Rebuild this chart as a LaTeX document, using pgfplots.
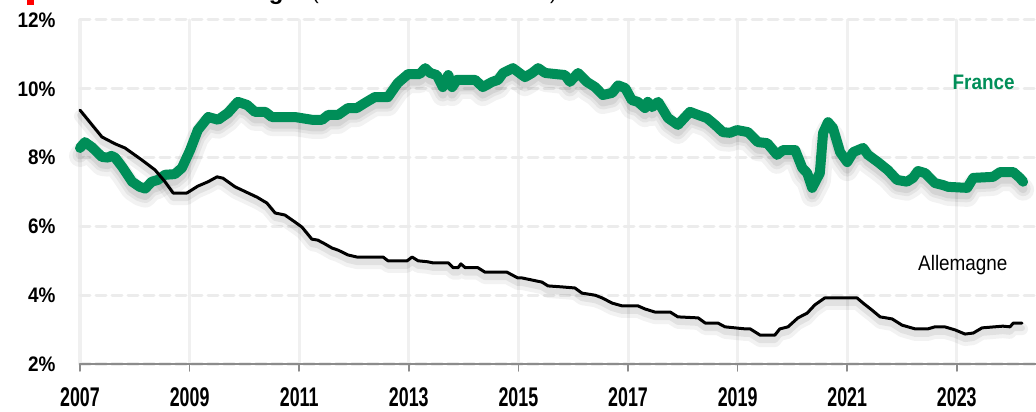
\documentclass[border=0pt]{standalone}
\usepackage{pgfplots}
\pgfplotsset{compat=1.18}
\usepackage{pgfplotstable}
\usepackage{fontspec}
\setmainfont{Liberation Sans}[FakeStretch=0.9]
\newfontfamily\titlefont{Liberation Sans}
\newfontfamily\xlabfont{Liberation Sans}[FakeStretch=0.66]
\definecolor{frgreen}{RGB}{0,142,88}
\definecolor{gridc}{RGB}{236,236,236}
\definecolor{axc}{RGB}{140,140,140}
\newcommand{\bigf}{\fontsize{21bp}{25bp}\selectfont}

\pgfplotstableread{
x y
2007.00 8.28
2007.09 8.45
2007.22 8.30
2007.40 8.02
2007.51 8.00
2007.57 8.05
2007.64 8.00
2007.77 7.73
2007.95 7.30
2008.09 7.15
2008.19 7.10
2008.31 7.30
2008.42 7.35
2008.55 7.50
2008.73 7.52
2008.86 7.70
2009.01 8.22
2009.15 8.80
2009.34 9.18
2009.52 9.10
2009.70 9.30
2009.88 9.62
2010.05 9.53
2010.19 9.33
2010.38 9.33
2010.50 9.18
2010.92 9.18
2011.23 9.10
2011.42 9.10
2011.53 9.24
2011.71 9.24
2011.89 9.44
2012.05 9.44
2012.20 9.59
2012.38 9.76
2012.62 9.76
2012.80 10.17
2012.99 10.43
2013.20 10.43
2013.30 10.60
2013.39 10.46
2013.51 10.40
2013.62 10.05
2013.72 10.40
2013.79 10.05
2013.88 10.26
2014.21 10.26
2014.35 10.05
2014.52 10.20
2014.63 10.26
2014.72 10.46
2014.90 10.60
2015.12 10.34
2015.25 10.46
2015.36 10.60
2015.49 10.46
2015.85 10.40
2015.94 10.20
2016.09 10.46
2016.25 10.20
2016.40 10.05
2016.54 9.82
2016.71 9.88
2016.82 10.10
2016.95 10.02
2017.07 9.67
2017.18 9.62
2017.31 9.44
2017.36 9.62
2017.44 9.47
2017.55 9.62
2017.73 9.15
2017.91 8.95
2018.13 9.33
2018.28 9.24
2018.44 9.15
2018.59 8.95
2018.73 8.74
2018.86 8.72
2018.99 8.80
2019.19 8.74
2019.37 8.45
2019.54 8.42
2019.72 8.08
2019.83 8.22
2020.05 8.22
2020.18 7.70
2020.27 7.55
2020.36 7.12
2020.50 7.55
2020.56 8.72
2020.65 9.03
2020.74 8.86
2020.87 8.16
2021.00 7.87
2021.11 8.16
2021.29 8.28
2021.38 8.08
2021.56 7.87
2021.74 7.64
2021.91 7.35
2022.09 7.30
2022.20 7.41
2022.29 7.61
2022.42 7.55
2022.60 7.26
2022.75 7.20
2022.84 7.15
2023.19 7.12
2023.30 7.41
2023.66 7.44
2023.79 7.58
2024.03 7.58
2024.15 7.41
2024.21 7.30
}\fr

\pgfplotstableread{
x y
2007.00 9.38
2007.22 8.95
2007.40 8.60
2007.64 8.40
2007.82 8.28
2008.13 7.93
2008.37 7.64
2008.55 7.30
2008.70 6.97
2008.95 6.97
2009.15 7.17
2009.34 7.30
2009.50 7.44
2009.61 7.40
2009.83 7.15
2010.07 6.97
2010.23 6.85
2010.41 6.68
2010.56 6.39
2010.74 6.33
2010.92 6.13
2011.05 5.98
2011.23 5.63
2011.34 5.60
2011.47 5.49
2011.60 5.37
2011.71 5.31
2011.89 5.17
2012.05 5.11
2012.53 5.11
2012.62 5.00
2012.97 5.00
2013.06 5.11
2013.17 5.00
2013.35 4.97
2013.44 4.94
2013.72 4.94
2013.81 4.80
2013.90 4.80
2013.95 4.91
2014.03 4.80
2014.26 4.80
2014.39 4.67
2014.79 4.67
2014.99 4.50
2015.07 4.50
2015.43 4.38
2015.54 4.27
2015.80 4.24
2016.03 4.21
2016.16 4.06
2016.40 4.00
2016.53 3.92
2016.71 3.77
2016.89 3.69
2017.18 3.69
2017.31 3.60
2017.49 3.51
2017.77 3.51
2017.91 3.37
2018.28 3.34
2018.41 3.19
2018.64 3.19
2018.77 3.08
2019.14 3.02
2019.23 3.02
2019.41 2.84
2019.68 2.84
2019.77 3.02
2019.92 3.08
2020.10 3.34
2020.27 3.48
2020.41 3.72
2020.59 3.92
2021.18 3.92
2021.29 3.77
2021.45 3.57
2021.60 3.37
2021.82 3.31
2022.00 3.13
2022.24 3.02
2022.47 3.02
2022.60 3.08
2022.78 3.08
2022.97 2.99
2023.15 2.87
2023.30 2.90
2023.46 3.05
2023.84 3.10
2023.97 3.08
2024.03 3.19
2024.19 3.19
}\de

\begin{document}
\begin{tikzpicture}
\begin{axis}[
  at={(80bp,48bp)}, anchor=south west,
  scale only axis, width=956bp, height=344bp,
  xmin=2007, xmax=2024.445, ymin=2, ymax=12,
  xtick={2007,2009,...,2023}, ytick={2,4,...,12},
  axis x line*=bottom, axis y line*=left,
  y axis line style={draw=none},
  x axis line style={draw=axc, line width=2bp, -},
  xmajorgrids, ymajorgrids,
  major x grid style={draw=gridc!80, line width=3bp},
  major y grid style={draw=gridc, line width=3bp, dash pattern=on 10bp off 6bp},
  tick align=outside,
  major tick length=7bp,
  xtick style={draw=axc, line width=1.5bp},
  ytick style={draw=none},
  /pgf/number format/1000 sep={},
  /pgf/number format/assume math mode=true,
  yticklabel={\pgfmathprintnumber{\tick}\%},
  xticklabel style={font=\xlabfont\fontsize{27bp}{30bp}\selectfont\bfseries, anchor=north, inner sep=0pt, yshift=-16bp},
  yticklabel style={font=\bigf\bfseries, anchor=east, xshift=-14bp},
  clip=false,
  line join=round, line cap=round,
]
% shadows
\addplot[black, opacity=0.05, line width=22bp, yshift=-8bp] table {\fr};
\addplot[black, opacity=0.06, line width=15bp, yshift=-7bp] table {\fr};
\addplot[black, opacity=0.07, line width=9bp, yshift=-7bp] table {\fr};
\addplot[black, opacity=0.05, line width=12bp, yshift=-6bp] table {\de};
\addplot[black, opacity=0.07, line width=6bp, yshift=-5bp] table {\de};
% series
\addplot[frgreen, line width=10bp] table {\fr};
\addplot[black, line width=3bp] table {\de};
\node[text=frgreen, font=\bigf\bfseries] at (axis cs:2023.49,10.2) {France};
\node[text=black, font=\bigf] at (axis cs:2023.11,4.88) {Allemagne};
\end{axis}
\node[anchor=base east, font=\titlefont\fontsize{24bp}{28bp}\selectfont\bfseries, inner sep=0pt] at (297bp,412.5bp) {Taux de chômage};
\node[anchor=base west, font=\titlefont\fontsize{20bp}{24bp}\selectfont, inner sep=0pt] at (312bp,412.5bp) {(en \% de la force de travail)};
\fill[red] (27bp,407bp) rectangle (34bp,416bp);
\pgfresetboundingbox
\useasboundingbox (0,0) rectangle (1036bp,412bp);
\end{tikzpicture}
\end{document}
